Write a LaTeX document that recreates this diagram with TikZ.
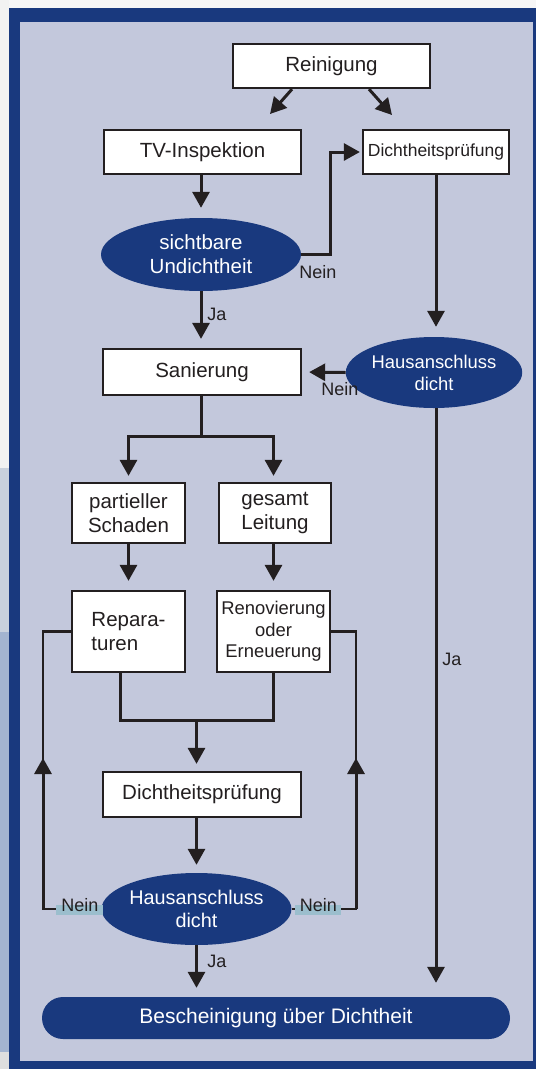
\documentclass[tikz,border=0pt]{standalone}
\usepackage{fontspec}
\setmainfont{Liberation Sans}
\usetikzlibrary{shapes.geometric,arrows.meta,calc}
\definecolor{dblue}{RGB}{25,57,126}
\definecolor{lblue}{RGB}{195,200,220}
\definecolor{ink}{RGB}{35,31,32}
\definecolor{neinbg}{RGB}{155,190,205}
\definecolor{strip1}{RGB}{242,242,242}
\definecolor{strip2}{RGB}{201,209,221}
\definecolor{strip3}{RGB}{163,180,208}
\definecolor{strip4}{RGB}{222,222,222}
\definecolor{paper}{RGB}{246,246,246}
\begin{document}
\begin{tikzpicture}[x=1pt,y=-1pt,
  box/.style={draw=ink, fill=white, line width=2.3pt, inner sep=0pt, align=center, text=ink, font=\fontsize{20.5}{24}\selectfont},
  oval/.style={ellipse, fill=dblue, inner sep=0pt, align=center, text=white, font=\fontsize{20.5}{24}\selectfont},
  arr/.style={line width=3pt, draw=ink, -{Triangle[width=17pt,length=16pt]}},
  ln/.style={line width=2.6pt, draw=ink},
  lbl/.style={font=\fontsize{18}{20}\selectfont, text=ink, inner sep=0pt}]
% background and frame
\fill[paper] (0,0) rectangle (536,1069);
\fill[strip1] (0,0) rectangle (9,468);
\fill[strip2] (0,468) rectangle (9,632);
\fill[strip3] (0,632) rectangle (9,1052);
\fill[strip4] (0,1052) rectangle (9,1069);
\fill[dblue] (9,8) rectangle (536,1069);
\fill[lblue] (20,22) rectangle (533,1061);
\useasboundingbox (0,0) rectangle (536,1069);

% nodes
\node[box, minimum width=197pt, minimum height=44pt] (rein) at (331.5,66) {Reinigung};
\node[box, minimum width=197pt, minimum height=44pt] (tv) at (202.5,152) {TV-Inspektion};
\node[box, minimum width=146pt, minimum height=44pt, font=\fontsize{17.5}{20}\selectfont] (dp1) at (436,152) {Dichtheitsprüfung};
\node[oval, minimum width=200pt, minimum height=73pt] (su) at (201,254.5) {sichtbare\\Undichtheit};
\node[box, minimum width=198pt, minimum height=46pt] (san) at (202,372) {Sanierung};
\node[oval, minimum width=153pt, minimum height=71pt, font=\fontsize{18.4}{22}\selectfont] (had1) at (434,372.5) {Hausanschluss\\dicht};
\node[box, minimum width=113pt, minimum height=60pt] (ps) at (128.5,513) {partieller\\Schaden};
\node[box, minimum width=112pt, minimum height=60pt] (gl) at (275,513) {gesamt\\Leitung};
\node[box, minimum width=113pt, minimum height=81pt, align=left] (rep) at (128.5,631.5) {Repara-\\turen};
\node[box, minimum width=113pt, minimum height=81pt, font=\fontsize{18.4}{21.5}\selectfont] (ren) at (273.5,631.5) {Renovierung\\oder\\Erneuerung};
\node[box, minimum width=198pt, minimum height=45pt] (dp2) at (202,794.5) {Dichtheitsprüfung};
\node[oval, minimum width=171pt, minimum height=72pt, font=\fontsize{19.8}{23}\selectfont] (had2) at (196.5,909) {Hausanschluss\\dicht};
\node[fill=dblue, rounded corners=21pt, minimum width=468pt, minimum height=42pt, inner sep=0pt, text=white, font=\fontsize{21}{24}\selectfont] (bes) at (276,1018) {Bescheinigung über Dichtheit};

% coordinates
\coordinate (r1) at (270,114);
\coordinate (r2) at (392,115);
\coordinate (k1) at (330,254.5);
\coordinate (s1) at (201,436);
\coordinate (m1) at (120,720);
\coordinate (m2) at (273.5,720);
\coordinate (mm) at (196.5,720);
\coordinate (lA) at (43,909);
\coordinate (lB) at (43,631.5);
\coordinate (lT) at (43,758);
\coordinate (rA) at (356,909);
\coordinate (rB) at (356,631.5);
\coordinate (rT) at (356,758);

% connectors
\draw[arr] ([xshift=-39.5pt]rein.south) -- (r1);
\draw[arr] ([xshift=37.5pt]rein.south) -- (r2);
\draw[arr, shorten >=10pt] (tv.south -| su) -- (su.north);
\draw[arr] (su.east) -- (k1) |- ([xshift=-2pt]dp1.west);
\draw[arr, shorten >=9pt] (su.south) -- (san.north -| su);
\draw[arr, shorten >=10pt] (dp1.south) -- (had1.north -| dp1);
\draw[arr, shorten >=7pt] (had1.west) -- (san.east);
\draw[arr, shorten >=14pt] (had1.south -| dp1) -- (bes.north -| dp1);
\draw[ln, line width=3pt] (san.south -| s1) -- (s1);
\draw[arr, shorten >=6pt] (s1) -| (ps.north);
\draw[arr, shorten >=6pt] (s1) -| (gl.north -| m2);
\draw[arr, shorten >=9pt] (ps.south) -- (rep.north);
\draw[arr, shorten >=9pt] (gl.south -| m2) -- (ren.north);
\draw[ln, line width=3pt] (rep.south -| m1) -- (m1) -- (m2) -- (ren.south -| m2);
\draw[arr, shorten >=7pt] (mm) -- (dp2.north -| mm);
\draw[arr, shorten >=8pt] (dp2.south -| had2) -- (had2.north);
\draw[arr, shorten >=9pt] (had2.south) -- (bes.north -| had2);
\draw[ln] (had2.west) -- (lA) -- (lB) -- (rep.west);
\draw[arr] (lA) -- (lT);
\draw[ln] (had2.east) -- (rA) -- (rB) -- (ren.east);
\draw[arr] (rA) -- (rT);

% labels
\node[lbl] (n1) at (318,272) {Nein};
\node[lbl] (j1) at (217,314) {Ja};
\node[lbl] (n2) at (340,389) {Nein};
\node[lbl] (j2) at (452,659) {Ja};
\node[lbl] (j3) at (217,961) {Ja};
\fill[neinbg] (56,905) rectangle (103,915);
\fill[neinbg] (295,905) rectangle (341,915);
\node[lbl] (n3) at (80,905) {Nein};
\node[lbl] (n4) at (318.5,905) {Nein};
\end{tikzpicture}
\end{document}
